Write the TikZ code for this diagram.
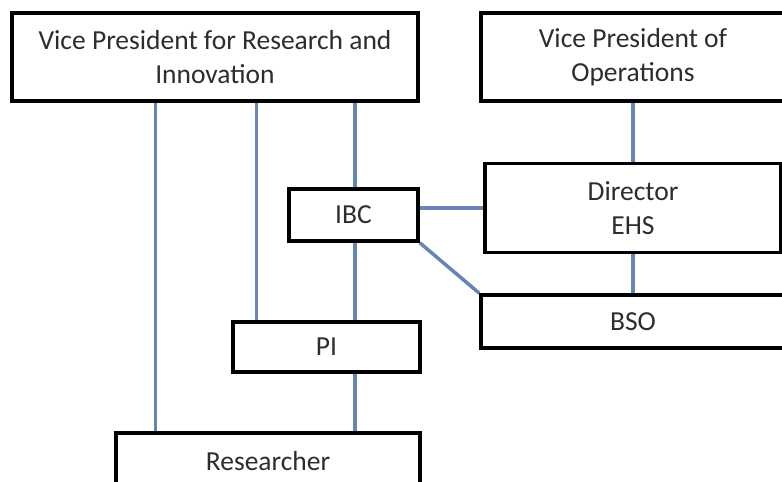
\documentclass[tikz,border=0pt]{standalone}
\usepackage{fontspec}
\setmainfont{Carlito}
\usetikzlibrary{backgrounds}
\definecolor{linkblue}{RGB}{102,132,180}
\definecolor{txtgray}{RGB}{45,45,45}
\tikzset{
  orgbox/.style={draw=black, line width=3.5pt, fill=white, text=txtgray, align=center,
    font=\fontsize{27.5}{33.5}\selectfont, inner sep=0pt},
  link/.style={draw=linkblue, line width=3.5pt}
}
\begin{document}
\begin{tikzpicture}[x=1pt,y=-1pt]
\useasboundingbox (0,0) rectangle (782,482);
\clip (0,0) rectangle (782,482);
\node[orgbox, minimum width=406pt, minimum height=88pt] (vpr) at (215,57) {Vice President for Research and\\Innovation};
\node[orgbox, minimum width=304pt, minimum height=88pt] (vpo) at (633,57) {Vice President of\\Operations};
\node[orgbox, minimum width=296pt, minimum height=89pt] (dir) at (633,208) {Director\\EHS};
\node[orgbox, minimum width=304pt, minimum height=53pt] (bso) at (633,321.5) {BSO};
\node[orgbox, minimum width=129pt, minimum height=52pt] (ibc) at (353.5,215) {IBC};
\node[orgbox, minimum width=187pt, minimum height=50pt] (pi) at (326.5,347) {PI};
\node[orgbox, minimum width=304pt, minimum height=60pt] (res) at (268,463) {};
\node[text=txtgray, font=\fontsize{27.5}{33.5}\selectfont, inner sep=0pt] (restxt) at (268,461) {Researcher};
\begin{scope}[on background layer]
\fill[white] (0,0) rectangle (782,482);
\draw[link] ([xshift=145pt]vpr.south west) -- ([xshift=41pt]res.north west);
\draw[link] ([xshift=246pt]vpr.south west) -- ([xshift=25pt]pi.north west);
\draw[link] ([xshift=1.5pt]ibc.north) -- ([xshift=1.5pt]ibc.north |- vpr.south);
\draw[link] ([xshift=1.5pt]ibc.south) -- ([xshift=1.5pt]ibc.south |- pi.north);
\draw[link] ([xshift=28.5pt]pi.south) -- ([xshift=28.5pt]pi.south |- res.north);
\draw[link] (vpo.south) -- (dir.north);
\draw[link] (dir.south) -- (bso.north);
\draw[link] (ibc.east |- 0,208) -- (dir.west |- 0,208);
\draw[link] (ibc.south east) -- (bso.north west);
\end{scope}
\end{tikzpicture}
\end{document}
